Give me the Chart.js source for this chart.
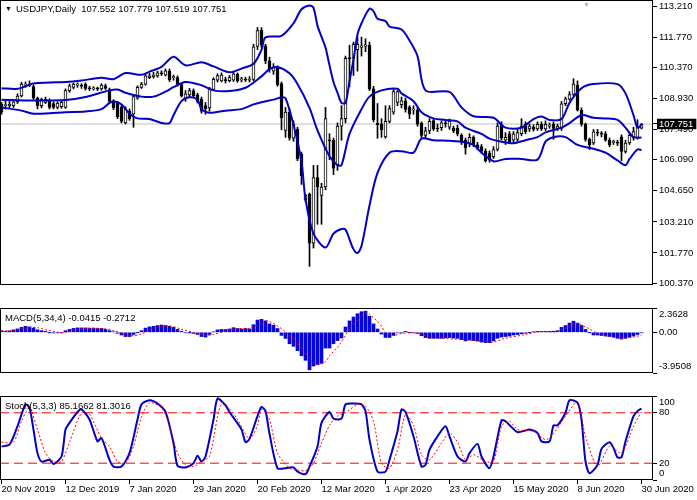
<!DOCTYPE html>
<html><head><meta charset="utf-8">
<script src="https://cdn.jsdelivr.net/npm/chart.js@4.4.1/dist/chart.umd.min.js"></script>
<style>
html,body{margin:0;padding:0;background:#fff;}
#wrap{position:relative;width:697px;height:500px;overflow:hidden;background:#fff;}
canvas{position:absolute;left:0;}
.lbl{position:absolute;font-family:'Liberation Sans',Arial,sans-serif;font-size:9.5px;line-height:11px;color:#000;white-space:pre;z-index:5;}
</style></head><body>
<div id="wrap">
<canvas id="cMain" width="697" height="316" style="top:0px"></canvas>
<canvas id="cMacd" width="697" height="100" style="top:300px"></canvas>
<canvas id="cStoch" width="697" height="114" style="top:386px"></canvas>
<div class="lbl" style="left:5px;top:3px;font-size:7px;">▼</div>
<div class="lbl" style="left:16px;top:3px;">USDJPY,Daily  107.552 107.779 107.519 107.751</div>
<div class="lbl" style="left:583px;top:-1px;font-size:7px;color:#b0b0b0;">▼</div>
<div class="lbl" style="left:5px;top:312px;">MACD(5,34,4) -0.0415 -0.2712</div>
<div class="lbl" style="left:5px;top:400px;">Stoch(5,3,3) 85.1662 81.3016</div>
</div>
<script>
// ---------- DATA ----------
const opens = [108.66,108.60,108.60,108.60,108.78,109.05,109.55,109.58,109.48,108.95,
108.60,108.75,108.82,108.70,108.52,108.55,108.52,109.30,109.45,109.55,
109.55,109.60,109.42,109.38,109.40,109.38,109.52,109.35,108.82,108.75,
108.52,107.80,108.35,108.22,108.95,109.45,109.60,109.90,109.95,109.98,
110.10,110.02,110.20,109.90,109.90,109.58,108.90,109.10,109.30,109.10,
108.91,108.60,108.50,109.35,109.78,109.75,109.80,109.76,109.78,110.05,
109.80,109.82,109.78,109.82,111.35,112.10,111.38,110.68,110.20,110.40,
109.62,107.45,108.30,107.09,107.52,106.35,104.23,104.49,102.23,105.27,
104.44,104.83,107.02,107.00,105.85,107.65,108.00,110.80,110.80,111.20,
111.30,111.35,111.40,109.38,107.78,107.75,107.15,107.87,108.30,108.75,
108.65,108.82,108.52,108.40,108.39,107.78,107.22,107.43,107.91,107.56,
107.58,107.78,107.60,107.56,107.56,107.22,107.00,106.85,107.13,106.78,
106.70,106.48,106.40,106.22,106.57,107.74,107.00,107.30,107.00,107.04,
107.30,107.74,107.52,107.60,107.52,107.74,107.52,107.65,107.74,107.55,
107.55,108.69,108.90,109.12,109.56,108.40,107.74,107.04,106.87,107.35,
107.30,107.30,107.00,106.90,106.88,107.15,106.48,106.87,107.13,107.13,
107.552];
const highs = [108.75,108.80,108.85,108.88,109.15,109.68,109.70,109.75,109.55,109.00,
108.95,109.00,108.92,108.78,108.78,108.85,109.38,109.60,109.65,109.66,
109.62,109.66,109.50,109.48,109.46,109.62,109.60,109.42,108.88,108.80,
108.60,108.55,108.45,109.10,109.52,109.68,110.05,110.10,110.15,110.20,
110.22,110.30,110.30,110.02,109.98,109.65,109.30,109.40,109.38,109.18,
109.00,108.75,109.45,109.90,110.08,110.12,109.92,110.00,110.15,110.12,
109.92,109.92,109.95,111.45,112.23,112.22,111.45,110.85,110.55,110.45,
109.70,108.52,108.45,107.90,107.60,106.45,104.50,104.55,105.83,105.83,
105.00,108.52,107.30,107.10,107.80,108.60,110.90,111.40,111.55,111.80,
111.78,111.70,111.55,109.50,108.70,108.00,108.60,108.60,109.35,109.30,
109.00,108.95,108.60,108.60,108.50,107.85,107.60,108.00,108.00,107.75,
107.90,107.95,107.98,107.65,107.70,107.30,107.10,107.30,107.20,106.90,
106.80,106.60,106.50,106.70,107.80,107.85,107.35,107.40,107.40,107.50,
108.00,107.85,107.75,107.72,107.85,107.85,107.90,107.80,107.85,107.75,
108.80,109.00,109.25,109.85,109.75,108.50,107.80,107.10,107.50,107.50,
107.40,107.40,107.10,107.00,107.00,107.25,107.00,107.35,107.60,107.95,
107.779];
const lows = [108.20,108.45,108.50,108.52,108.70,109.00,109.45,109.48,108.90,108.45,
108.50,108.70,108.45,108.45,108.45,108.48,108.48,109.22,109.38,109.45,
109.40,109.32,109.30,109.32,109.30,109.32,109.35,108.75,108.42,108.00,
107.80,107.75,107.92,107.60,108.90,109.40,109.55,109.85,109.88,109.92,
110.00,109.98,109.72,109.78,109.50,109.00,108.80,109.00,108.98,108.72,
108.25,108.20,108.35,109.30,109.70,109.70,109.65,109.70,109.72,109.68,
109.70,109.72,109.70,109.75,111.20,111.30,110.55,110.15,110.05,109.50,
107.48,107.13,107.00,106.95,106.05,104.95,104.15,101.15,102.00,103.10,
103.10,104.70,106.10,105.40,105.60,107.00,107.80,109.47,110.00,110.20,
110.90,111.10,109.30,107.85,107.09,107.13,107.09,107.80,108.20,108.60,
108.50,108.30,108.00,108.20,107.65,107.10,107.10,107.30,107.45,107.40,
107.45,107.60,107.50,107.35,107.20,106.80,106.35,106.70,106.70,106.55,
106.40,105.98,105.98,106.15,106.50,107.00,106.80,106.85,106.90,106.95,
107.20,107.30,107.40,107.42,107.45,107.45,107.45,107.55,107.04,107.45,
107.45,108.60,108.85,109.05,108.35,107.65,106.95,106.57,106.80,107.20,
107.15,106.95,106.70,106.80,106.75,106.05,106.40,106.80,107.00,107.05,
107.519];
const closes = [108.30,108.62,108.66,108.78,109.05,109.60,109.60,109.55,108.95,108.60,
108.88,108.90,108.52,108.52,108.72,108.75,109.30,109.52,109.60,109.58,
109.50,109.40,109.38,109.40,109.38,109.55,109.40,108.80,108.50,108.08,
107.87,108.45,108.00,109.02,109.45,109.60,109.98,109.98,110.02,110.12,
110.08,110.22,109.80,109.92,109.58,109.05,109.15,109.30,109.05,108.80,
108.34,108.45,109.38,109.82,110.00,110.02,109.76,109.90,110.08,109.75,
109.82,109.78,109.82,111.33,112.08,111.40,110.68,110.29,110.40,109.57,
108.04,108.30,107.09,107.74,106.13,105.35,104.44,102.23,105.27,104.83,
104.83,108.00,106.97,105.70,107.65,108.00,110.80,110.78,111.45,111.45,
111.38,111.42,109.38,107.95,107.72,107.48,107.87,108.47,109.25,109.25,
108.82,108.43,108.21,108.45,107.74,107.22,107.43,107.87,107.52,107.52,
107.80,107.76,107.87,107.43,107.30,106.91,106.65,107.13,106.78,106.65,
106.48,106.05,106.08,106.57,107.65,107.09,107.13,106.91,107.30,107.35,
107.65,107.39,107.65,107.50,107.74,107.52,107.74,107.67,107.55,107.65,
108.69,108.92,109.12,109.60,108.40,107.74,107.04,106.78,107.39,107.33,
107.28,107.00,106.78,106.92,106.86,106.48,106.87,107.22,107.40,107.65,
107.751];
const lastPrice = 107.751;

// Bollinger bands: [bar, price]
const upperBand = [[0,109.41],[4,109.38],[8,109.63],[12,109.67],[16,109.70],[20,109.77],[25,109.89],[28,109.83],[31,110.11],[35,110.03],[37,110.18],[40,110.40],[43,110.87],[46,110.47],[50,110.61],[53,110.42],[57,110.15],[60,110.32],[63,110.54],[65,111.19],[66,111.77],[70,111.84],[73,112.42],[75,113.07],[77,113.25],[78,113.14],[79,112.30],[80,111.80],[81,111.30],[82,110.47],[83,109.70],[84,109.20],[85,108.73],[86,108.73],[87,109.74],[88,110.75],[89,111.90],[90,112.42],[92,113.10],[93,112.98],[94,112.63],[96,112.52],[97,112.27],[100,112.13],[102,111.62],[104,110.90],[106,109.31],[112,109.24],[115,108.52],[118,108.11],[123,108.04],[126,107.58],[130,107.58],[133,107.98],[135,108.10],[137,107.94],[140,107.98],[142,108.73],[145,109.41],[148,109.60],[154,109.60],[156,109.17],[158,108.16],[159,107.58],[160,107.70]];
const middleBand = [[0,108.88],[8,108.84],[16,108.86],[21,109.00],[27,109.31],[29,109.35],[31,109.20],[35,109.02],[38,109.02],[41,109.25],[43,109.46],[46,109.70],[50,109.55],[53,109.31],[57,109.28],[61,109.43],[65,109.96],[67,110.29],[69,110.39],[72,110.10],[74,109.60],[77,108.50],[79,107.45],[82,106.25],[84,105.84],[85,105.84],[87,107.29],[90,108.44],[92,109.02],[95,109.31],[99,109.38],[100,109.17],[103,108.81],[105,108.30],[108,108.01],[111,107.94],[114,107.87],[116,107.58],[120,107.29],[122,107.07],[125,106.93],[128,106.86],[131,107.00],[134,107.14],[136,107.36],[140,107.58],[142,107.79],[145,108.16],[148,108.04],[151,108.01],[154,107.94],[156,107.58],[158,107.14],[160,107.12]];
const lowerBand = [[0,108.52],[5,108.37],[8,108.23],[12,108.25],[16,108.30],[21,108.33],[25,108.44],[27,108.73],[28,108.81],[30,108.66],[32,108.23],[34,108.01],[37,107.98],[40,107.80],[42,107.79],[43,108.16],[45,108.81],[47,108.99],[49,108.88],[50,108.44],[52,108.27],[56,108.37],[60,108.44],[63,108.66],[65,108.76],[68,108.88],[70,108.99],[71,108.95],[73,107.72],[75,105.99],[76,104.26],[78,102.67],[81,102.02],[83,102.67],[85,102.88],[86,102.85],[87,102.40],[88,101.94],[89,101.77],[90,102.09],[92,103.97],[94,105.48],[97,106.42],[100,106.49],[103,106.42],[105,107.07],[108,107.00],[112,106.97],[115,106.93],[118,106.78],[120,106.42],[123,106.02],[126,106.13],[130,106.13],[134,106.10],[136,106.93],[138,107.14],[141,107.14],[144,106.78],[148,106.60],[151,106.42],[154,106.06],[156,105.84],[157,106.13],[159,106.57],[160,106.54]];

// MACD(5,34,4)
const macdHist = [0.16,0.09,0.14,0.24,0.33,0.48,0.58,0.53,0.41,0.24,
0.16,0.09,-0.01,-0.06,-0.06,-0.01,0.16,0.28,0.38,0.43,
0.43,0.43,0.41,0.41,0.38,0.38,0.28,0.16,0.04,-0.09,
-0.26,-0.41,-0.41,-0.21,-0.01,0.16,0.41,0.53,0.58,0.66,
0.71,0.66,0.58,0.48,0.28,0.09,-0.04,-0.01,-0.11,-0.21,
-0.41,-0.46,-0.21,0.04,0.24,0.28,0.28,0.33,0.45,0.37,
0.32,0.37,0.32,0.74,1.19,1.26,1.11,0.82,0.69,0.37,
-0.30,-0.59,-1.11,-1.36,-1.78,-2.28,-2.72,-3.64,-3.27,-3.14,
-3.02,-1.53,-1.53,-1.11,-0.80,-0.55,0.52,1.11,1.49,1.81,
2.00,2.05,1.56,0.82,0.32,-0.17,-0.50,-0.50,-0.30,-0.05,
-0.06,0.09,-0.01,-0.04,-0.11,-0.33,-0.51,-0.58,-0.58,-0.58,
-0.58,-0.53,-0.51,-0.56,-0.58,-0.71,-0.83,-0.75,-0.80,-0.85,
-0.95,-1.00,-1.00,-0.83,-0.58,-0.46,-0.41,-0.36,-0.26,-0.21,
-0.14,-0.09,-0.01,0.04,0.09,0.09,0.09,0.09,0.11,0.16,
0.48,0.66,0.90,1.08,0.90,0.66,0.28,-0.01,-0.26,-0.26,
-0.31,-0.36,-0.41,-0.46,-0.58,-0.66,-0.58,-0.46,-0.36,-0.21,
-0.0415];
const macdSignal = [[0,0.12],[3,0.18],[7,0.45],[9,0.45],[11,0.26],[14,0.02],[16,-0.03],[18,0.20],[22,0.38],[25,0.38],[28,0.18],[31,-0.20],[33,-0.33],[35,-0.15],[38,0.40],[42,0.62],[45,0.30],[48,0.0],[51,-0.30],[53,-0.20],[57,0.25],[59,0.37],[62,0.37],[63,0.57],[65,0.85],[66,1.11],[67,1.05],[69,0.62],[70,0.35],[72,-0.30],[73,-0.67],[74,-1.10],[75,-1.55],[77,-2.55],[78,-2.90],[79,-3.12],[81,-2.85],[82,-2.28],[84,-1.45],[85,-0.92],[86,-0.30],[87,0.35],[89,1.20],[90,1.56],[91,1.86],[92,1.75],[94,1.05],[95,0.57],[96,0.0],[98,-0.30],[100,-0.10],[103,-0.04],[106,-0.33],[110,-0.58],[116,-0.71],[121,-0.90],[123,-0.95],[126,-0.58],[131,-0.21],[134,0.04],[139,0.09],[143,0.78],[144,0.85],[146,0.53],[149,-0.09],[152,-0.41],[155,-0.58],[158,-0.46],[160,-0.2712]];

// Stochastic(5,3,3)
const stochMain = [[0,40],[2,42],[4,64],[6,90],[7,86],[8,60],[9,32],[10,22],[12,24],[13,19],[15,28],[16,60],[17,68],[19,81],[20,84],[22,72],[24,46],[25,50],[27,24],[28,16],[30,16],[32,32],[34,72],[35,90],[37,95],[39,91],[41,81],[43,44],[44,17],[46,15],[48,20],[49,29],[50,22],[51,28],[53,72],[54,97],[56,89],[57,81],[60,60],[61,45],[62,49],[64,76],[65,87],[66,82],[67,55],[69,14],[71,14],[73,15],[74,10],[76,7],[77,16],[79,40],[80,68],[82,81],[83,73],[85,73],[86,90],[88,91],[90,90],[91,82],[92,48],[94,10],[96,10],[97,24],[99,58],[100,84],[101,81],[103,52],[105,16],[106,18],[107,36],[109,52],[111,64],[112,52],[114,28],[116,22],[117,32],[119,43],[120,28],[122,14],[123,28],[125,71],[126,70],[129,57],[131,59],[132,60],[134,56],[135,46],[137,46],[138,65],[139,65],[141,80],[142,95],[144,92],[145,72],[146,22],[147,8],[149,18],[150,37],[152,45],[153,38],[154,27],[155,27],[156,46],[158,76],[159,82],[160,85.1662]];
const stochSignal = [[0,45],[3,45],[5,70],[7,86],[9,60],[11,32],[13,22],[15,22],[17,45],[20,80],[22,78],[25,50],[27,40],[29,22],[31,20],[33,40],[35,75],[37,92],[40,86],[42,65],[44,32],[46,18],[48,16],[50,22],[52,28],[54,75],[55,90],[57,85],[59,72],[62,49],[64,65],[65,84],[67,72],[69,32],[72,14],[74,12],[76,11],[78,20],[80,44],[82,65],[84,76],[86,80],[89,90],[91,88],[93,70],[95,20],[97,14],[99,36],[101,78],[103,65],[105,30],[107,24],[110,44],[112,56],[114,45],[116,24],[118,30],[121,22],[123,22],[125,64],[127,70],[129,60],[133,58],[136,48],[138,55],[141,76],[144,93],[146,52],[149,16],[152,40],[155,32],[158,64],[160,81.3016]];
const stochLevels = [80, 20];

// Axis ticks
const dateTickIdx = [0,16,32,48,64,80,96,112,128,144,160];
const dateTickLabels = ['20 Nov 2019','12 Dec 2019','7 Jan 2020','29 Jan 2020','20 Feb 2020','12 Mar 2020','1 Apr 2020','23 Apr 2020','15 May 2020','8 Jun 2020','30 Jun 2020'];
const priceTicks = [113.21,111.77,110.37,108.93,107.49,106.09,104.65,103.21,101.77,100.37];
const macdTicks = [2.3628, 0, -3.9508];
const stochTicks = [100, 80, 20, 0];

// ---------- CHART HELPERS ----------
const FAM = "'Liberation Sans', Arial, sans-serif";
const X_MIN = -0.375, X_MAX = 162.875;
const BLUE = '#0000c8';
const pairs = a => a.map(p => ({x: p[0], y: p[1]}));
const flat = v => [{x: X_MIN, y: v}, {x: X_MAX, y: v}];

const framePlugin = {
  id: 'frame',
  afterDraw(chart) {
    const {ctx, chartArea: a} = chart;
    ctx.save();
    ctx.strokeStyle = '#000';
    ctx.lineWidth = 1;
    ctx.strokeRect(Math.round(a.left) + 0.5, Math.round(a.top) + 0.5,
      Math.round(a.right - a.left) - 1, Math.round(a.bottom - a.top) - 1);
    ctx.restore();
  }
};

function xScale(show) {
  return {
    type: 'linear', min: X_MIN, max: X_MAX, offset: false, bounds: 'data', display: show,
    afterBuildTicks: ax => { ax.ticks = dateTickIdx.map(v => ({value: v})); },
    afterFit: ax => { ax.height = 20; ax.paddingLeft = 0; ax.paddingRight = 0; },
    grid: {drawOnChartArea: false, drawTicks: true, tickLength: 4, color: '#000', offset: false},
    border: {display: false},
    ticks: {
      autoSkip: false, maxRotation: 0, minRotation: 0, align: 'start', padding: 0, color: '#000',
      font: {family: FAM, size: 9.5},
      callback: v => { const k = dateTickIdx.indexOf(v); return k < 0 ? '' : dateTickLabels[k]; }
    }
  };
}
function yScale(min, max, tickVals, tickOpts) {
  return {
    type: 'linear', position: 'right', min, max, bounds: 'data', beginAtZero: false,
    afterBuildTicks: ax => { ax.ticks = tickVals.map(v => ({value: v})); },
    afterFit: ax => { ax.width = 44; ax.paddingTop = 0; ax.paddingBottom = 0; },
    grid: {drawOnChartArea: false, drawTicks: true, tickLength: 4, color: '#000'},
    border: {display: false},
    ticks: Object.assign({autoSkip: false, padding: 2, color: '#000', font: {family: FAM, size: 9.5, lineHeight: 1.4}}, tickOpts)
  };
}
const baseOpts = {
  responsive: false, animation: false, devicePixelRatio: 1, events: [],
  plugins: {legend: {display: false}, tooltip: {enabled: false}, title: {display: false}}
};

// ---------- MAIN PRICE PANEL ----------
const idx = closes.map((_, i) => i);
const bodyData = idx.map(i => ({x: i, y: [Math.min(opens[i], closes[i]), Math.max(opens[i], closes[i])]}));
const wickData = idx.map(i => ({x: i, y: [lows[i], highs[i]]}));
const bodyColors = idx.map(i => closes[i] >= opens[i] ? '#ffffff' : '#000000');

new Chart(document.getElementById('cMain'), {
  type: 'bar',
  data: {
    datasets: [
      {type: 'line', data: pairs(upperBand), borderColor: BLUE, borderWidth: 2, pointRadius: 0, tension: 0.3, order: 0},
      {type: 'line', data: pairs(middleBand), borderColor: BLUE, borderWidth: 2, pointRadius: 0, tension: 0.3, order: 0},
      {type: 'line', data: pairs(lowerBand), borderColor: BLUE, borderWidth: 2, pointRadius: 0, tension: 0.3, order: 0},
      {type: 'bar', data: bodyData, backgroundColor: bodyColors, borderColor: '#000', borderWidth: 1,
        borderSkipped: false, barThickness: 3, minBarLength: 1, grouped: false, order: 1},
      {type: 'bar', data: wickData, backgroundColor: '#000', borderWidth: 0, barThickness: 1, grouped: false, order: 2},
      {type: 'line', data: flat(lastPrice), borderColor: '#c0c0c0', borderWidth: 1, pointRadius: 0, order: 3}
    ]
  },
  options: Object.assign({}, baseOpts, {
    layout: {padding: {top: 0, bottom: 11, left: 0, right: 0}},
    scales: {
      x: xScale(false),
      y: yScale(100.285, 113.50, priceTicks.concat([lastPrice]), {
        font: {family: FAM, size: 9.5, lineHeight: 1.1},
        callback: v => v.toFixed(3),
        color: c => (c.tick && c.tick.value === lastPrice) ? '#ffffff' : '#000000',
        showLabelBackdrop: c => !!(c.tick && c.tick.value === lastPrice),
        backdropColor: '#000000',
        backdropPadding: {top: 0, bottom: 0, left: 2, right: 3}
      })
    }
  }),
  plugins: [framePlugin]
});

// ---------- MACD PANEL ----------
new Chart(document.getElementById('cMacd'), {
  type: 'bar',
  data: {
    datasets: [
      {type: 'line', data: pairs(macdSignal), borderColor: '#ff0000', borderWidth: 1, borderDash: [2, 2],
        pointRadius: 0, tension: 0.3, order: 0},
      {type: 'bar', data: idx.map(i => ({x: i, y: macdHist[i]})), backgroundColor: '#0505dc',
        borderWidth: 0, barThickness: 3, grouped: false, order: 1}
    ]
  },
  options: Object.assign({}, baseOpts, {
    layout: {padding: {top: 8, bottom: 7, left: 0, right: 0}},
    scales: {
      x: xScale(false),
      y: yScale(-3.9508, 2.3628, macdTicks, {
        callback: v => v === macdTicks[0] ? ['', v.toFixed(4)] : (v === macdTicks[2] ? [v.toFixed(4), ''] : v.toFixed(2))
      })
    }
  }),
  plugins: [framePlugin]
});

// ---------- STOCHASTIC PANEL ----------
new Chart(document.getElementById('cStoch'), {
  type: 'line',
  data: {
    datasets: [
      {data: pairs(stochSignal), borderColor: '#ff0000', borderWidth: 1, borderDash: [2, 2], pointRadius: 0, tension: 0.25, order: 0},
      {data: pairs(stochMain), borderColor: BLUE, borderWidth: 2, pointRadius: 0, tension: 0.25, order: 1},
      {data: flat(stochLevels[0]), borderColor: '#ff0000', borderWidth: 1, borderDash: [9, 5], pointRadius: 0, order: 2},
      {data: flat(stochLevels[1]), borderColor: '#ff0000', borderWidth: 1, borderDash: [9, 5], pointRadius: 0, order: 2}
    ]
  },
  options: Object.assign({}, baseOpts, {
    layout: {padding: {top: 10, bottom: 0, left: 0, right: 0}},
    scales: {
      x: xScale(true),
      y: yScale(0, 100, stochTicks, {
        callback: v => v === 100 ? ['', '100'] : (v === 0 ? ['0', ''] : String(v))
      })
    }
  }),
  plugins: [framePlugin]
});
</script>
</body></html>
